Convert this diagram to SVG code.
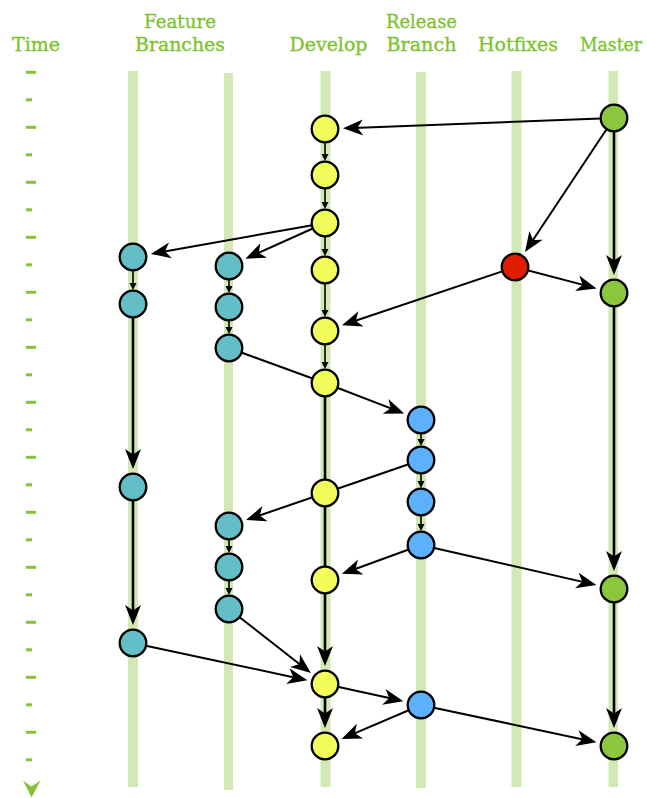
<svg xmlns="http://www.w3.org/2000/svg" width="647" height="798" viewBox="0 0 647 798">
<style>
.lbl{font-family:"DejaVu Serif","Liberation Serif",serif;font-size:19px;fill:#7cc22a;stroke:#7cc22a;stroke-width:0.3;text-anchor:middle}
.bar{fill:#d2e8b5}
.tick{fill:#86c23a}
.e{stroke:#000;stroke-width:2;fill:none;marker-end:url(#big)}
.v{stroke:#000;stroke-width:2.6;fill:none}
.s{stroke:#000;stroke-width:1.6;fill:none;marker-end:url(#small)}
.n{stroke:#000;stroke-width:2.3}
.dev{fill:#f4fc5c}
.fea{fill:#63bec8}
.rel{fill:#5cb0fc}
.hot{fill:#e01d00}
.mas{fill:#8cc63f}
</style>
<defs>
<marker id="big" markerUnits="userSpaceOnUse" viewBox="0 -10 24 20" markerWidth="24" markerHeight="20" refX="16" refY="0" orient="auto" overflow="visible">
<path d="M20,0 L0,-8 L5.5,0 L0,8 Z" fill="#000"/>
</marker>
<marker id="small" markerUnits="userSpaceOnUse" viewBox="0 -5 10 10" markerWidth="10" markerHeight="10" refX="4" refY="0" orient="auto" overflow="visible">
<path d="M7,0 L0,-3.5 L0,3.5 Z" fill="#000"/>
</marker>
</defs>
<rect width="647" height="798" fill="#fff"/>
<g id="labels">
<text class="lbl" x="36" y="51" textLength="48" lengthAdjust="spacingAndGlyphs">Time</text>
<text class="lbl" x="180" y="28" textLength="72" lengthAdjust="spacingAndGlyphs">Feature</text>
<text class="lbl" x="180" y="51" textLength="90" lengthAdjust="spacingAndGlyphs">Branches</text>
<text class="lbl" x="328.5" y="51" textLength="78" lengthAdjust="spacingAndGlyphs">Develop</text>
<text class="lbl" x="421.5" y="28" textLength="71" lengthAdjust="spacingAndGlyphs">Release</text>
<text class="lbl" x="421.5" y="51" textLength="70" lengthAdjust="spacingAndGlyphs">Branch</text>
<text class="lbl" x="518" y="51" textLength="80" lengthAdjust="spacingAndGlyphs">Hotfixes</text>
<text class="lbl" x="611" y="51" textLength="62" lengthAdjust="spacingAndGlyphs">Master</text>
</g>
<g id="time-axis">
<rect class="tick" x="26" y="70.8" width="10" height="3"/>
<rect class="tick" x="26" y="98.3" width="6" height="3"/>
<rect class="tick" x="26" y="125.8" width="10" height="3"/>
<rect class="tick" x="26" y="153.3" width="6" height="3"/>
<rect class="tick" x="26" y="180.8" width="10" height="3"/>
<rect class="tick" x="26" y="208.3" width="6" height="3"/>
<rect class="tick" x="26" y="235.8" width="10" height="3"/>
<rect class="tick" x="26" y="263.3" width="6" height="3"/>
<rect class="tick" x="26" y="290.8" width="10" height="3"/>
<rect class="tick" x="26" y="318.3" width="6" height="3"/>
<rect class="tick" x="26" y="345.8" width="10" height="3"/>
<rect class="tick" x="26" y="373.3" width="6" height="3"/>
<rect class="tick" x="26" y="400.8" width="10" height="3"/>
<rect class="tick" x="26" y="428.3" width="6" height="3"/>
<rect class="tick" x="26" y="455.8" width="10" height="3"/>
<rect class="tick" x="26" y="483.3" width="6" height="3"/>
<rect class="tick" x="26" y="510.8" width="10" height="3"/>
<rect class="tick" x="26" y="538.3" width="6" height="3"/>
<rect class="tick" x="26" y="565.8" width="10" height="3"/>
<rect class="tick" x="26" y="593.3" width="6" height="3"/>
<rect class="tick" x="26" y="620.8" width="10" height="3"/>
<rect class="tick" x="26" y="648.3" width="6" height="3"/>
<rect class="tick" x="26" y="675.8" width="10" height="3"/>
<rect class="tick" x="26" y="703.3" width="6" height="3"/>
<rect class="tick" x="26" y="730.8" width="10" height="3"/>
<rect class="tick" x="26" y="758.3" width="6" height="3"/>
<polygon class="tick" points="23,780.5 31.5,786.5 40.5,780.5 31.5,797.5"/>
</g>
<g id="lanes">
<rect class="bar" x="128" y="71" width="10" height="716"/>
<rect class="bar" x="224" y="73" width="9" height="717"/>
<rect class="bar" x="320.5" y="71" width="10" height="716"/>
<rect class="bar" x="416" y="72" width="10" height="716"/>
<rect class="bar" x="511.5" y="71" width="10" height="716"/>
<rect class="bar" x="608.5" y="71" width="9.5" height="716"/>
</g>
<g id="connectors">
<line class="e" x1="614" y1="118" x2="347" y2="128.2"/>
<line class="e" x1="325" y1="223" x2="154.7" y2="253.2"/>
<line class="e" x1="325" y1="223" x2="249.1" y2="257"/>
<line class="e" x1="614" y1="118" x2="527.2" y2="248.7"/>
<line class="v" x1="614" y1="118" x2="614" y2="271" marker-end="url(#big)"/>
<line class="e" x1="515" y1="267" x2="592.7" y2="287.4"/>
<line class="e" x1="515" y1="267" x2="345.8" y2="324"/>
<line class="e" x1="325" y1="383" x2="400.5" y2="412.1"/>
<line class="e" x1="325" y1="493" x2="249.8" y2="518.8"/>
<line class="v" x1="133" y1="304" x2="133" y2="465" marker-end="url(#big)"/>
<line class="v" x1="133" y1="487" x2="133" y2="621" marker-end="url(#big)"/>
<line class="v" x1="325" y1="580" x2="325" y2="662" marker-end="url(#big)"/>
<line class="e" x1="421" y1="545" x2="345.7" y2="572.5"/>
<line class="e" x1="421" y1="545" x2="592.5" y2="584.1"/>
<line class="v" x1="614" y1="293" x2="614" y2="567" marker-end="url(#big)"/>
<line class="e" x1="229" y1="609" x2="307.7" y2="670.5"/>
<line class="e" x1="133" y1="643" x2="303.5" y2="679.4"/>
<line class="e" x1="325" y1="684" x2="399.5" y2="700.3"/>
<line class="v" x1="325" y1="684" x2="325" y2="724" marker-end="url(#big)"/>
<line class="e" x1="421" y1="705" x2="345.2" y2="737.4"/>
<line class="e" x1="421" y1="705" x2="592.5" y2="741.4"/>
<line class="v" x1="614" y1="589" x2="614" y2="724" marker-end="url(#big)"/>
<line class="v" x1="229" y1="348" x2="325" y2="383" style="stroke-width:2"/>
<line class="v" x1="421" y1="460" x2="325" y2="493" style="stroke-width:2"/>
<line class="v" x1="325" y1="383" x2="325" y2="493"/>
<line class="v" x1="325" y1="493" x2="325" y2="580"/>
<line class="s" x1="325" y1="129" x2="325" y2="158"/>
<line class="s" x1="325" y1="175" x2="325" y2="206"/>
<line class="s" x1="325" y1="223" x2="325" y2="253"/>
<line class="s" x1="325" y1="270" x2="325" y2="314"/>
<line class="s" x1="325" y1="331" x2="325" y2="366"/>
<line class="s" x1="133" y1="257" x2="133" y2="287"/>
<line class="s" x1="229" y1="266" x2="229" y2="290"/>
<line class="s" x1="229" y1="307" x2="229" y2="331"/>
<line class="s" x1="421" y1="420" x2="421" y2="443"/>
<line class="s" x1="421" y1="460" x2="421" y2="485"/>
<line class="s" x1="421" y1="502" x2="421" y2="528"/>
<line class="s" x1="229" y1="526" x2="229" y2="550"/>
<line class="s" x1="229" y1="567" x2="229" y2="592"/>
</g>
<g id="develop-nodes">
<g id="d1"><circle class="n dev" cx="325" cy="129" r="13.3"/></g>
<g id="d2"><circle class="n dev" cx="325" cy="175" r="13.3"/></g>
<g id="d3"><circle class="n dev" cx="325" cy="223" r="13.3"/></g>
<g id="d4"><circle class="n dev" cx="325" cy="270" r="13.3"/></g>
<g id="d5"><circle class="n dev" cx="325" cy="331" r="13.3"/></g>
<g id="d6"><circle class="n dev" cx="325" cy="383" r="13.3"/></g>
<g id="d7"><circle class="n dev" cx="325" cy="493" r="13.3"/></g>
<g id="d8"><circle class="n dev" cx="325" cy="580" r="13.3"/></g>
<g id="d9"><circle class="n dev" cx="325" cy="684" r="13.3"/></g>
<g id="d10"><circle class="n dev" cx="325" cy="746" r="13.3"/></g>
</g>
<g id="feature-nodes">
<g id="f1a"><circle class="n fea" cx="133" cy="257" r="13.3"/></g>
<g id="f1b"><circle class="n fea" cx="133" cy="304" r="13.3"/></g>
<g id="f1c"><circle class="n fea" cx="133" cy="487" r="13.3"/></g>
<g id="f1d"><circle class="n fea" cx="133" cy="643" r="13.3"/></g>
<g id="f2a"><circle class="n fea" cx="229" cy="266" r="13.3"/></g>
<g id="f2b"><circle class="n fea" cx="229" cy="307" r="13.3"/></g>
<g id="f2c"><circle class="n fea" cx="229" cy="348" r="13.3"/></g>
<g id="f2d"><circle class="n fea" cx="229" cy="526" r="13.3"/></g>
<g id="f2e"><circle class="n fea" cx="229" cy="567" r="13.3"/></g>
<g id="f2f"><circle class="n fea" cx="229" cy="609" r="13.3"/></g>
</g>
<g id="release-nodes">
<g id="r1"><circle class="n rel" cx="421" cy="420" r="13.3"/></g>
<g id="r2"><circle class="n rel" cx="421" cy="460" r="13.3"/></g>
<g id="r3"><circle class="n rel" cx="421" cy="502" r="13.3"/></g>
<g id="r4"><circle class="n rel" cx="421" cy="545" r="13.3"/></g>
<g id="r5"><circle class="n rel" cx="421" cy="705" r="13.3"/></g>
</g>
<g id="hotfix-nodes">
<g id="h1"><circle class="n hot" cx="515" cy="267" r="13.3"/></g>
</g>
<g id="master-nodes">
<g id="m1"><circle class="n mas" cx="614" cy="118" r="13.3"/></g>
<g id="m2"><circle class="n mas" cx="614" cy="293" r="13.3"/></g>
<g id="m3"><circle class="n mas" cx="614" cy="589" r="13.3"/></g>
<g id="m4"><circle class="n mas" cx="614" cy="746" r="13.3"/></g>
</g>
</svg>
